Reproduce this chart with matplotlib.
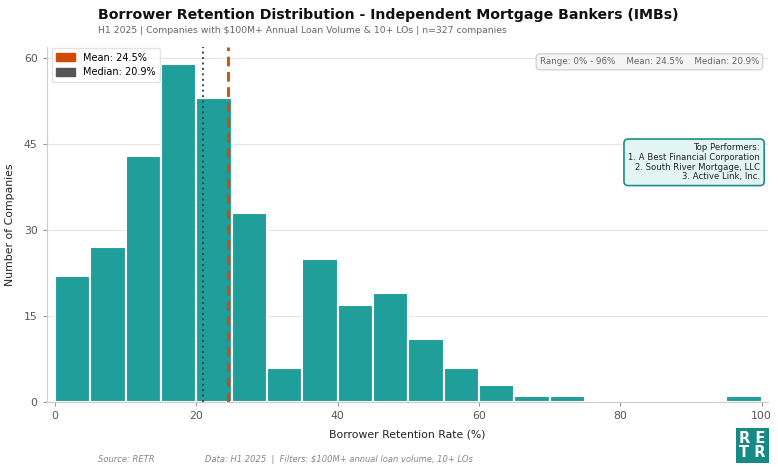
import numpy as np
import matplotlib
matplotlib.use('Agg')
from matplotlib import pyplot as plt
from matplotlib.patches import Patch, FancyBboxPatch

bin_left = [0, 5, 10, 15, 20, 25, 30, 35, 40, 45, 50, 55, 60, 65, 70, 75, 80, 85, 90, 95]
counts = [22, 27, 43, 59, 53, 33, 6, 25, 17, 19, 11, 6, 3, 1, 1, 0, 0, 0, 0, 1]
mean_val = 24.5
median_val = 20.9
range_min, range_max = 0, 96
top_names = ['A Best Financial Corporation', 'South River Mortgage, LLC', 'Active Link, Inc.']

teal = '#1f9e9a'
orange = '#d24a06'
gray = '#555555'

fig = plt.figure(figsize=(7.78, 4.69), dpi=100)
ax = fig.add_axes([0.060, 0.143, 0.927, 0.757])

ax.bar(bin_left, counts, width=5, align='edge', color=teal,
       edgecolor='white', linewidth=1.5, zorder=2)
ax.axvline(mean_val, color=orange, linestyle=(0, (3.5, 2)), linewidth=2, zorder=3)
ax.axvline(median_val, color='#444444', linestyle=(0, (1, 1.8)), linewidth=1.4, zorder=3)

ax.set_xlim(-1.2, 100.9)
ax.set_ylim(0, 62)
ax.set_yticks([0, 15, 30, 45, 60])
ax.set_xticks([0, 20, 40, 60, 80, 100])
ax.grid(axis='y', color='#e6e6e6', linewidth=0.8, zorder=0)
ax.set_axisbelow(True)
for s in ['top', 'right']:
    ax.spines[s].set_visible(False)
for s in ['left', 'bottom']:
    ax.spines[s].set_color('#cccccc')
ax.tick_params(colors='#999999', labelcolor='#555555', labelsize=7.8, length=3)

ax.set_xlabel('Borrower Retention Rate (%)', fontsize=7.8, color='#222222', labelpad=6)
ax.set_ylabel('Number of Companies', fontsize=7.8, color='#222222', labelpad=6)

handles = [Patch(color=orange, label=f'Mean: {mean_val:.1f}%'),
           Patch(color=gray, label=f'Median: {median_val:.1f}%')]
ax.legend(handles=handles, loc='upper left', fontsize=7, frameon=True,
          edgecolor='#dddddd', borderpad=0.45, handlelength=2.0, handleheight=0.9,
          bbox_to_anchor=(0.0, 1.01))

stats = f'Range: {range_min}% - {range_max}%    Mean: {mean_val:.1f}%    Median: {median_val:.1f}%'
ax.text(0.988, 0.958, stats,
        transform=ax.transAxes, ha='right', va='center', fontsize=6.3, color='#666666',
        bbox=dict(boxstyle='round,pad=0.4', facecolor='#f5f5f5', edgecolor='#d5d5d5'))

top_text = 'Top Performers:\n' + '\n'.join(f'{i + 1}. {n}' for i, n in enumerate(top_names))
ax.text(0.989, 0.675, top_text, transform=ax.transAxes, ha='right', va='center',
        fontsize=6.1, color='#222222', linespacing=1.1,
        bbox=dict(boxstyle='round,pad=0.5', facecolor='#e3f5f3', edgecolor='#1a8f8a', linewidth=1.2))

fig.text(0.126, 0.968, 'Borrower Retention Distribution - Independent Mortgage Bankers (IMBs)',
         ha='left', va='center', fontsize=10.2, fontweight='bold', color='#111111')
fig.text(0.126, 0.934, 'H1 2025 | Companies with $100M+ Annual Loan Volume & 10+ LOs | n=327 companies',
         ha='left', va='center', fontsize=6.7, color='#666666')

fig.text(0.126, 0.02, 'Source: RETR', ha='left', va='center', fontsize=6,
         style='italic', color='#888888')
fig.text(0.263, 0.02, 'Data: H1 2025  |  Filters: $100M+ annual loan volume, 10+ LOs',
         ha='left', va='center', fontsize=6, style='italic', color='#888888')

logo = FancyBboxPatch((736 / 778, 6 / 469), 33 / 778, 35 / 469, boxstyle='square,pad=0',
                      transform=fig.transFigure, facecolor='#168a85', edgecolor='none')
fig.patches.append(logo)
fig.text(752.5 / 778, 23.5 / 469, 'R E\nT R', ha='center', va='center', fontsize=10.5,
         fontweight='bold', color='white', linespacing=0.95)

fig.savefig('out.png', dpi=100)
